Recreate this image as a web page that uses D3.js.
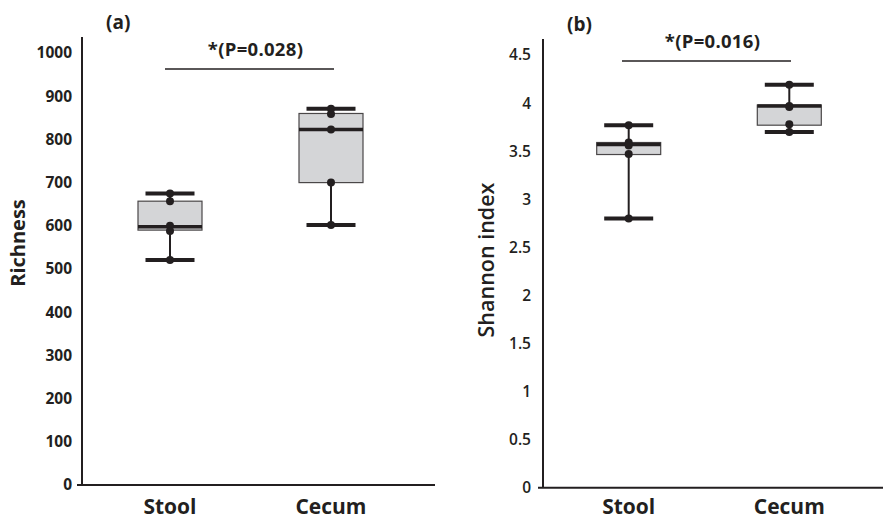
<!DOCTYPE html>
<html>
<head>
<meta charset="utf-8">
<script src="https://cdn.jsdelivr.net/npm/d3@7"></script>
<style>
  body { margin: 0; background: #fff; }
  svg { font-family: "Open Sans", "Noto Sans", sans-serif; }
</style>
</head>
<body>
<div id="chart"></div>
<script>
var categories = ["Stool", "Cecum"];

// (a) richness
var richPoints = [[675, 657, 600, 588, 521], [871, 859, 823, 700, 602]];
var richBox = [
  { min: 521, q1: 590, median: 598, q3: 657, max: 675 },
  { min: 602, q1: 700, median: 823, q3: 860, max: 871 }
];
var richTicks = [0, 100, 200, 300, 400, 500, 600, 700, 800, 900, 1000];

// (b) shannon
var shanPoints = [[3.77, 3.59, 3.56, 3.47, 2.80], [4.19, 3.97, 3.96, 3.78, 3.70]];
var shanBox = [
  { min: 2.80, q1: 3.465, median: 3.57, q3: 3.59, max: 3.77 },
  { min: 3.70, q1: 3.77, median: 3.97, q3: 3.98, max: 4.19 }
];
var shanTicks = [0, 0.5, 1, 1.5, 2, 2.5, 3, 3.5, 4, 4.5];

var ink = "#231f20";

var svg = d3.select("#chart").append("svg")
  .attr("width", 883)
  .attr("height", 520);

function drawPanel(opt) {
  var g = svg.append("g");

  var x = d3.scalePoint().domain(categories).range(opt.xRange);
  var y = d3.scaleLinear().domain(opt.yDomain).range(opt.yRange);

  // y axis, no tick marks
  var yaxis = d3.axisLeft(y).tickValues(opt.ticks).tickSize(0).tickPadding(opt.tickPad)
    .tickFormat(d => String(d));
  var gy = g.append("g").attr("transform", `translate(${opt.axisX},0)`).call(yaxis);
  gy.select(".domain").remove();
  gy.selectAll("text")
    .style("font-size", "15.5px")
    .style("font-weight", opt.tickWeight)
    .attr("fill", ink)
    .attr("font-family", "'Open Sans', sans-serif");

  g.append("line")
    .attr("x1", opt.axisX).attr("x2", opt.axisX)
    .attr("y1", opt.axisTop).attr("y2", y(0))
    .attr("stroke", ink).attr("stroke-width", 2);
  g.append("line")
    .attr("x1", opt.axisX - 5).attr("x2", opt.axisRight)
    .attr("y1", y(0)).attr("y2", y(0))
    .attr("stroke", ink).attr("stroke-width", 2);

  // category labels
  g.selectAll(".xlab").data(categories).join("text")
    .attr("class", "xlab")
    .attr("x", d => x(d))
    .attr("y", 514)
    .attr("text-anchor", "middle")
    .style("font-size", "21px")
    .style("font-weight", "bold")
    .attr("fill", ink)
    .text(d => d);

  // y title
  g.append("text")
    .attr("transform", `translate(${opt.titleX},${opt.titleY}) rotate(-90)`)
    .attr("text-anchor", "middle")
    .style("font-size", opt.titleSize)
    .style("font-weight", opt.titleWeight)
    .attr("fill", ink)
    .text(opt.title);

  // panel letter
  g.append("text")
    .attr("x", opt.letterX).attr("y", opt.letterY)
    .style("font-size", "19px")
    .style("font-weight", "bold")
    .attr("fill", ink)
    .text(opt.letter);

  var boxW = 64, capW = 49;
  var boxes = g.selectAll(".box").data(opt.box).join("g").attr("class", "box");

  // whiskers
  boxes.append("line")
    .attr("x1", (d, i) => x(categories[i])).attr("x2", (d, i) => x(categories[i]))
    .attr("y1", d => y(d.min)).attr("y2", d => y(d.max))
    .attr("stroke", ink).attr("stroke-width", 2);

  boxes.append("rect")
    .attr("x", (d, i) => x(categories[i]) - boxW / 2)
    .attr("width", boxW)
    .attr("y", d => y(d.q3))
    .attr("height", d => y(d.q1) - y(d.q3))
    .attr("fill", "#d4d5d7")
    .attr("stroke", "#4a4748")
    .attr("stroke-width", 1.2);

  boxes.append("line")
    .attr("x1", (d, i) => x(categories[i]) - boxW / 2).attr("x2", (d, i) => x(categories[i]) + boxW / 2)
    .attr("y1", d => y(d.median)).attr("y2", d => y(d.median))
    .attr("stroke", ink).attr("stroke-width", 3.5);

  boxes.selectAll(".cap").data(d => [d.min, d.max]).join("line")
    .attr("class", "cap")
    .attr("x1", function(v) { var i = opt.box.indexOf(d3.select(this.parentNode).datum()); return x(categories[i]) - capW / 2; })
    .attr("x2", function(v) { var i = opt.box.indexOf(d3.select(this.parentNode).datum()); return x(categories[i]) + capW / 2; })
    .attr("y1", v => y(v)).attr("y2", v => y(v))
    .attr("stroke", ink).attr("stroke-width", 4);

  // points
  opt.points.forEach(function(pts, i) {
    g.selectAll(".pt" + i).data(pts).join("circle")
      .attr("class", "pt" + i)
      .attr("cx", x(categories[i]))
      .attr("cy", d => y(d))
      .attr("r", 4)
      .attr("fill", ink);
  });

  // significance bar
  g.append("line")
    .attr("x1", opt.sig[0]).attr("x2", opt.sig[1])
    .attr("y1", opt.sigY).attr("y2", opt.sigY)
    .attr("stroke", ink).attr("stroke-width", 1.5);
  g.append("text")
    .attr("x", (opt.sig[0] + opt.sig[1]) / 2 + 6)
    .attr("y", opt.sigY - 13)
    .attr("text-anchor", "middle")
    .style("font-size", "18.5px")
    .style("font-weight", "bold")
    .style("letter-spacing", "0.3px")
    .attr("fill", ink)
    .text(opt.sigText);
}

drawPanel({
  xRange: [170, 331],
  yDomain: [0, 1000], yRange: [485, 53],
  ticks: richTicks, tickPad: 10, tickWeight: "bold",
  axisX: 82, axisTop: 37, axisRight: 435,
  box: richBox, points: richPoints,
  title: "Richness", titleX: 25, titleY: 243, titleSize: "20px", titleWeight: "bold",
  letter: "(a)", letterX: 106, letterY: 29,
  sig: [165, 334], sigY: 69, sigText: "*(P=0.028)"
});

drawPanel({
  xRange: [628.7, 789.3],
  yDomain: [0, 4.5], yRange: [487.7, 55],
  ticks: shanTicks, tickPad: 12, tickWeight: "600",
  axisX: 543, axisTop: 39, axisRight: 883,
  box: shanBox, points: shanPoints,
  title: "Shannon index", titleX: 494, titleY: 260, titleSize: "21.5px", titleWeight: "600",
  letter: "(b)", letterX: 567, letterY: 31,
  sig: [622, 791], sigY: 61, sigText: "*(P=0.016)"
});
</script>
</body>
</html>
